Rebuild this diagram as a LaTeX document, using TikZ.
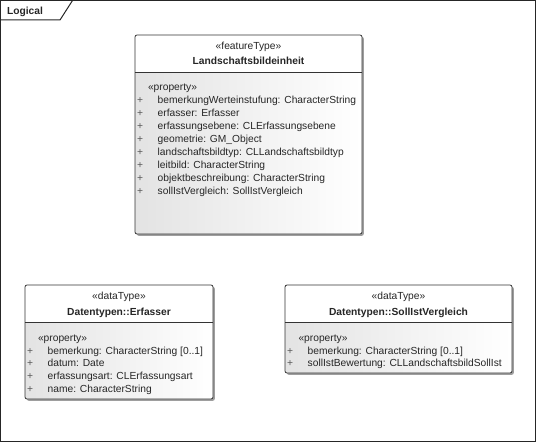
\documentclass[tikz,border=0pt]{standalone}
\usepackage{fontspec}
\setmainfont{Liberation Sans}
\newcommand\umlbackdrop[5]{%
  \fill[black!38, rounded corners=2pt] (#1+1.8,#2+1.8) rectangle (#3+1.8,#4+1.8);
  \fill[white, rounded corners=2pt] (#1,#2) rectangle (#3,#4);
  \shade[left color=black!11, right color=white, rounded corners=2pt] (#1,#5) rectangle (#3,#4);
}
\begin{document}
\begin{tikzpicture}[x=1pt,y=-1pt,
  every node/.style={inner sep=0pt, outer sep=0pt, text=black!85},
  txt/.style={font=\fontsize{10.25}{12}\selectfont, anchor=base west},
  ctxt/.style={font=\fontsize{10.25}{12}\selectfont, anchor=base},
  btxt/.style={font=\fontsize{10.25}{12}\selectfont\bfseries, anchor=base},
  plus/.style={font=\fontsize{10.25}{12}\selectfont, anchor=base, text=black!65},
  umlbox/.style={draw=black!80, line width=0.8pt, rounded corners=2pt, anchor=north west},
  sepline/.style={draw=black!80, line width=0.8pt}]
\useasboundingbox (0,0) rectangle (537,444);
% frame
\node[draw=black!85, line width=1pt, anchor=north west, minimum width=535pt, minimum height=441pt] (frame) at (0.5,0.5) {};
\draw[black!85, line width=1pt] (0.5,20) -- (60,20) -- (72.5,0.5);
\node[font=\fontsize{10.25}{12}\selectfont\bfseries, anchor=base west] (tab) at (7,15) {Logical};

% Landschaftsbildeinheit
\umlbackdrop{135}{35}{362}{234}{72}
\node[umlbox, minimum width=227pt, minimum height=199pt] (land) at (135,35) {};
\draw[sepline] (135,72) -- (362,72);
\node[ctxt] (landst) at (248.5,49.5) {«featureType»};
\node[btxt] (landnm) at (248.5,64) {Landschaftsbildeinheit};
\node[txt] (landpr) at (148,90.8) {«property»};
\foreach \t [count=\i from 0] in {bemerkungWerteinstufung: CharacterString,
  erfasser: Erfasser, erfassungsebene: CLErfassungsebene, geometrie: GM\_Object,
  landschaftsbildtyp: CLLandschaftsbildtyp, leitbild: CharacterString,
  objektbeschreibung: CharacterString, sollIstVergleich: SollIstVergleich}{
  \node[plus] (landp\i) at (140,103.8+12.95*\i) {+};
  \node[txt] (landa\i) at (157.7,103.8+12.95*\i) {\t};
}

% Erfasser
\umlbackdrop{25}{285}{213}{399}{322}
\node[umlbox, minimum width=188pt, minimum height=114pt] (erf) at (25,285) {};
\draw[sepline] (25,322) -- (213,322);
\node[ctxt] (erfst) at (119,299.5) {«dataType»};
\node[btxt] (erfnm) at (119,315.5) {Datentypen::Erfasser};
\node[txt] (erfpr) at (38,341) {«property»};
\foreach \t [count=\i from 0] in {bemerkung: CharacterString [0..1], datum: Date,
  erfassungsart: CLErfassungsart, name: CharacterString}{
  \node[plus] (erfp\i) at (30,354.2+12.75*\i) {+};
  \node[txt] (erfa\i) at (47.7,354.2+12.75*\i) {\t};
}

% SollIstVergleich
\umlbackdrop{285}{285}{512}{373}{322}
\node[umlbox, minimum width=227pt, minimum height=88pt] (soll) at (285,285) {};
\draw[sepline] (285,322) -- (512,322);
\node[ctxt] (sollst) at (398.5,299.5) {«dataType»};
\node[btxt] (sollnm) at (398.5,315.5) {Datentypen::SollIstVergleich};
\node[txt] (sollpr) at (298.5,341) {«property»};
\foreach \t [count=\i from 0] in {bemerkung: CharacterString [0..1],
  sollIstBewertung: CLLandschaftsbildSollIst}{
  \node[plus] (sollp\i) at (290,354.2+12.75*\i) {+};
  \node[txt] (solla\i) at (307.7,354.2+12.75*\i) {\t};
}
\end{tikzpicture}
\end{document}
